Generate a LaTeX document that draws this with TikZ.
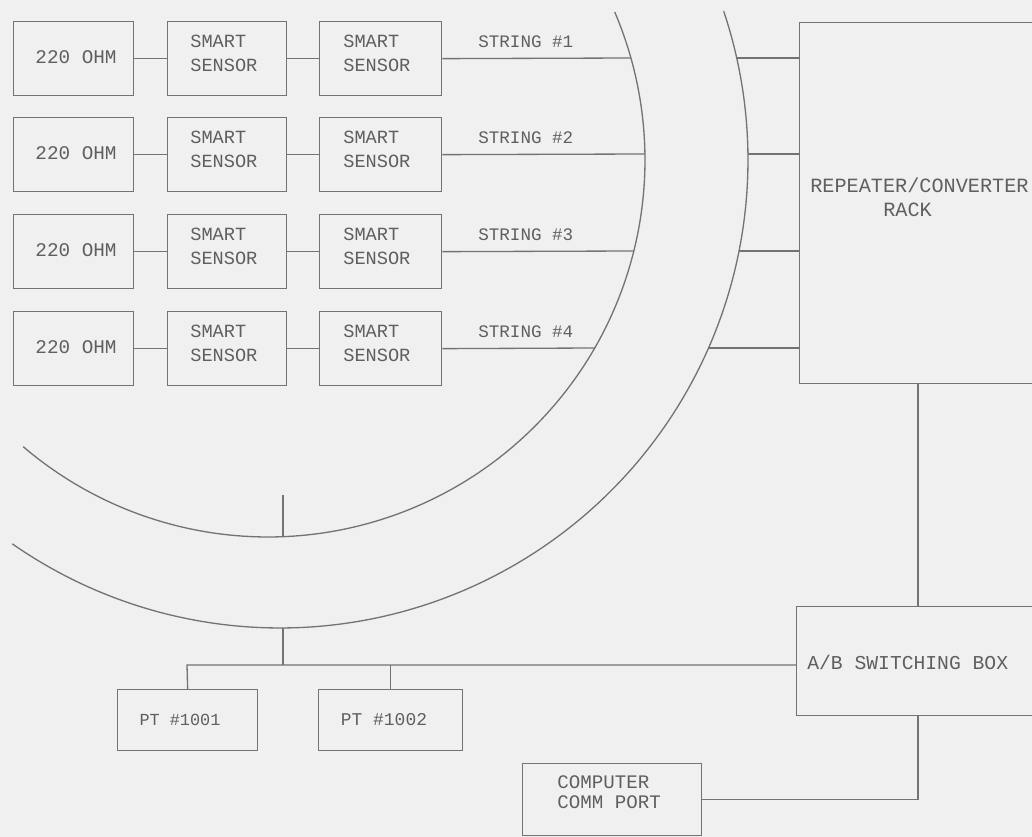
\documentclass[tikz,border=0pt]{standalone}
\usepackage{fontspec}
\setmonofont{Liberation Mono}
\definecolor{bg}{RGB}{240,240,240}
\definecolor{ln}{RGB}{115,115,115}
\definecolor{tx}{RGB}{95,95,95}
\begin{document}
\begin{tikzpicture}[x=0.02cm, y=-0.02cm,
  lnk/.style={draw=ln, line width=0.75pt},
  box/.style 2 args={draw=ln, line width=0.75pt, anchor=north west, inner sep=0pt,
    minimum width=#1*0.02cm, minimum height=#2*0.02cm},
  txt/.style={text=tx, inner sep=0pt, align=left, anchor=west,
    font=\ttfamily\fontsize{10.6}{13.6}\selectfont},
]
\useasboundingbox (0,0) rectangle (1032,837);
\fill[bg] (0,0) rectangle (1032,837);
\clip (0,0) rectangle (1032,837);

% repeater / converter rack
\node[box={262}{361}] (rack) at (799,22) {};
\node[txt, font=\ttfamily\fontsize{11.5}{12}\selectfont] (rackt1) at (810,185) {REPEATER/CONVERTER};
\node[txt, font=\ttfamily\fontsize{11.5}{12}\selectfont] (rackt2) at (883,210) {RACK};

% strings
\foreach \r/\t/\ix/\ox in {1/21/631/737, 2/117/645/748, 3/214/634/739, 4/311/595/709} {
  \node[box={120}{74}] (ohm\r) at (13,\t) {};
  \node[txt, anchor=center, font=\ttfamily\fontsize{11}{13}\selectfont] (ohmt\r) at (76,\t+36) {220 OHM};
  \node[box={119}{74}] (sa\r) at (167,\t) {};
  \node[txt] (sat\r) at (190,\t+32) {SMART\\SENSOR};
  \node[box={122}{74}] (sb\r) at (319,\t) {};
  \node[txt] (sbt\r) at (343,\t+32) {SMART\\SENSOR};
  \node[txt, font=\ttfamily\fontsize{10}{12}\selectfont] (st\r) at (478,\t+21) {STRING \#\r};
  \coordinate (ia\r) at (\ix,\t+37);
  \coordinate (oa\r) at (\ox,\t+37);
  \draw[lnk] (ohm\r.east) -- (sa\r.west);
  \draw[lnk] (sa\r.east) -- (sb\r.west);
  \draw[lnk] (sb\r.east) -- (ia\r);
  \draw[lnk] (oa\r) -- (oa\r -| rack.west);
}

% containment arcs
\draw[lnk] plot[domain=-23.1:130.5, samples=160] ({268+377*cos(\x)}, {160+377*sin(\x)});
\draw[lnk] plot[domain=-18.55:124.9, samples=160] ({280+468*cos(\x)}, {160+468*sin(\x)});

% A/B switching box, computer port, PTs
\node[box={270}{109}] (ab) at (796,606) {};
\node[txt, font=\ttfamily\fontsize{11.2}{12}\selectfont] (abt) at (807,662) {A/B SWITCHING BOX};
\node[box={179}{72}] (comp) at (522,763) {};
\node[txt, font=\ttfamily\fontsize{10.9}{11.4}\selectfont] (compt) at (557,792) {COMPUTER\\COMM PORT};
\node[box={140}{61}] (pt1) at (117,689) {};
\node[txt, anchor=center, font=\ttfamily\fontsize{9.6}{12}\selectfont] (pt1t) at (180,720) {PT \#1001};
\node[box={144}{61}] (pt2) at (318,689) {};
\node[txt, anchor=center, font=\ttfamily\fontsize{10.2}{12}\selectfont] (pt2t) at (384,720) {PT \#1002};

% connectors
\coordinate (vx) at (918,0);
\draw[lnk] (rack.south -| vx) -- (ab.north -| vx);
\draw[lnk] (ab.south -| vx) |- (comp.east);
\coordinate (busL) at (187,665);
\draw[lnk] (pt1.north) -- (busL) -- (busL -| ab.west);
\draw[lnk] (pt2.north) -- (pt2.north |- busL);
\coordinate (ob) at (283,628);
\draw[lnk] (ob) -- (ob |- busL);
\coordinate (tk) at (283,495);
\coordinate (ib) at (283,536.7);
\draw[lnk] (tk) -- (ib);
\end{tikzpicture}
\end{document}
